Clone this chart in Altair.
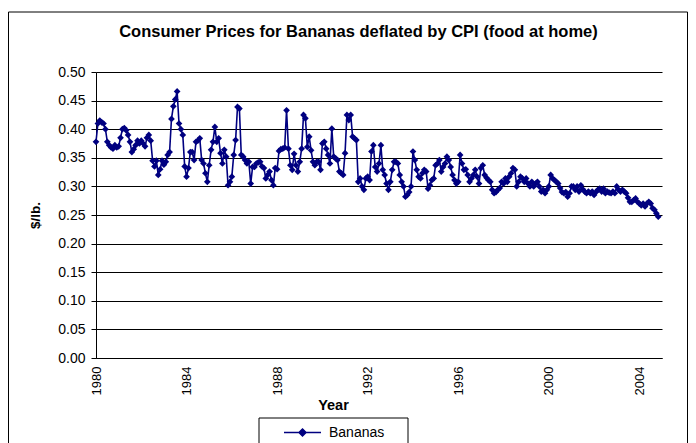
import altair as alt
import pandas as pd

# Monthly consumer price of bananas deflated by CPI ($/lb.), Jan 1980 onward
p1980 = [0.378, 0.410, 0.415, 0.412, 0.410, 0.400, 0.378, 0.372, 0.368, 0.366, 0.372, 0.368]
p1981 = [0.370, 0.385, 0.400, 0.402, 0.398, 0.390, 0.378, 0.360, 0.365, 0.372, 0.380, 0.375]
p1982 = [0.380, 0.375, 0.370, 0.385, 0.390, 0.380, 0.345, 0.335, 0.345, 0.320, 0.330, 0.345]
p1983 = [0.338, 0.343, 0.355, 0.360, 0.418, 0.440, 0.452, 0.466, 0.410, 0.400, 0.390, 0.335]
p1984 = [0.317, 0.332, 0.360, 0.360, 0.346, 0.378, 0.380, 0.384, 0.346, 0.340, 0.323, 0.308]
p1985 = [0.337, 0.364, 0.378, 0.404, 0.378, 0.384, 0.358, 0.340, 0.364, 0.352, 0.302, 0.308]
p1986 = [0.317, 0.355, 0.381, 0.439, 0.436, 0.355, 0.352, 0.346, 0.340, 0.343, 0.305, 0.334]
p1987 = [0.334, 0.340, 0.342, 0.343, 0.335, 0.332, 0.314, 0.320, 0.326, 0.311, 0.302, 0.332]
p1988 = [0.330, 0.362, 0.365, 0.366, 0.368, 0.433, 0.366, 0.337, 0.329, 0.357, 0.337, 0.326]
p1989 = [0.343, 0.366, 0.425, 0.419, 0.369, 0.387, 0.363, 0.343, 0.337, 0.343, 0.343, 0.329]
p1990 = [0.375, 0.378, 0.366, 0.355, 0.340, 0.401, 0.352, 0.349, 0.346, 0.326, 0.323, 0.320]
p1991 = [0.358, 0.425, 0.416, 0.425, 0.387, 0.384, 0.381, 0.308, 0.314, 0.300, 0.294, 0.314]
p1992 = [0.317, 0.311, 0.361, 0.372, 0.334, 0.326, 0.340, 0.372, 0.329, 0.320, 0.305, 0.294]
p1993 = [0.308, 0.329, 0.343, 0.343, 0.340, 0.320, 0.308, 0.300, 0.282, 0.285, 0.290, 0.300]
p1994 = [0.361, 0.346, 0.329, 0.317, 0.314, 0.323, 0.329, 0.326, 0.296, 0.302, 0.311, 0.314]
p1995 = [0.337, 0.340, 0.346, 0.326, 0.334, 0.340, 0.352, 0.346, 0.334, 0.320, 0.311, 0.305]
p1996 = [0.308, 0.355, 0.340, 0.329, 0.330, 0.320, 0.308, 0.314, 0.320, 0.329, 0.317, 0.305]
p1997 = [0.332, 0.337, 0.320, 0.315, 0.311, 0.308, 0.294, 0.288, 0.290, 0.294, 0.297, 0.308]
p1998 = [0.305, 0.314, 0.308, 0.317, 0.323, 0.332, 0.329, 0.300, 0.308, 0.317, 0.314, 0.308]
p1999 = [0.314, 0.305, 0.300, 0.308, 0.300, 0.305, 0.308, 0.300, 0.291, 0.294, 0.288, 0.294]
p2000 = [0.300, 0.320, 0.314, 0.311, 0.308, 0.305, 0.297, 0.290, 0.288, 0.290, 0.282, 0.288]
p2001 = [0.300, 0.300, 0.294, 0.300, 0.291, 0.302, 0.295, 0.291, 0.288, 0.291, 0.288, 0.291]
p2002 = [0.285, 0.290, 0.294, 0.296, 0.291, 0.296, 0.288, 0.291, 0.289, 0.288, 0.291, 0.288]
p2003 = [0.300, 0.294, 0.291, 0.294, 0.291, 0.288, 0.280, 0.273, 0.273, 0.276, 0.279, 0.273]
p2004 = [0.270, 0.267, 0.270, 0.265, 0.270, 0.273, 0.270, 0.262, 0.259, 0.253, 0.247]

year_ticks = [1980, 1984, 1988, 1992, 1996, 2000, 2004]
price_ticks = [0.00, 0.05, 0.10, 0.15, 0.20, 0.25, 0.30, 0.35, 0.40, 0.45, 0.50]
series_name = "Bananas"
title_text = "Consumer Prices for Bananas deflated by CPI (food at home)"

yearly = [p1980, p1981, p1982, p1983, p1984, p1985, p1986, p1987, p1988, p1989,
          p1990, p1991, p1992, p1993, p1994, p1995, p1996, p1997, p1998, p1999,
          p2000, p2001, p2002, p2003, p2004]
prices = [v for yr in yearly for v in yr]
df = pd.DataFrame({
    "t": [1980 + i / 12 for i in range(len(prices))],
    "price": prices,
    "series": [series_name] * len(prices),
})

FONT = "Liberation Sans"
NAVY = "#000080"

x_enc = alt.X(
    "t:Q",
    scale=alt.Scale(domain=[1980, 2005], nice=False, zero=False),
    axis=alt.Axis(
        values=year_ticks, format="d", labelAngle=270, labelAlign="right",
        labelBaseline="middle", labelFontSize=13, labelPadding=8, ticks=False,
        grid=False, domainColor="black", labelColor="black",
        title="Year", titleFontSize=14.5, titleFontWeight="bold", titleColor="black",
        titleX=237, titleY=47, titleAlign="center", titleBaseline="middle",
    ),
)
y_enc = alt.Y(
    "price:Q",
    scale=alt.Scale(domain=[0, 0.5], nice=False),
    axis=alt.Axis(
        values=price_ticks, format=".2f", labelFontSize=14, tickSize=5,
        labelPadding=6, grid=True, gridColor="black", gridWidth=1,
        domainColor="black", tickColor="black", labelColor="black",
        title="$/lb.", titleFontSize=13.5, titleFontWeight="bold", titleColor="black",
        titleX=-61, titleY=143, titleAngle=270, titleAlign="center",
        titleBaseline="middle",
    ),
)
color_enc = alt.Color(
    "series:N",
    scale=alt.Scale(domain=[series_name], range=[NAVY]),
    legend=alt.Legend(
        title=None, orient="none", legendX=187, legendY=341,
        symbolType="M-1,0L1,0M0,-0.19L0.19,0L0,0.19L-0.19,0Z",
        symbolSize=1369, symbolStrokeWidth=1.5, symbolFillColor=NAVY,
        symbolStrokeColor=NAVY, labelFontSize=14, labelOffset=7, padding=0,
        labelColor="black",
    ),
)

base = alt.Chart(df)
line = base.mark_line(strokeWidth=1.6).encode(x=x_enc, y=y_enc, color=color_enc)
points = base.mark_point(shape="diamond", filled=True, size=45, opacity=1).encode(
    x=x_enc, y=y_enc, color=color_enc
)

deco = alt.Chart(alt.Data(values=[{"k": 1}]))
frame = deco.mark_rect(fill=None, stroke="black", strokeWidth=1).encode(
    x=alt.value(-87.5), x2=alt.value(591.5), y=alt.value(-60), y2=alt.value(400)
)
legend_box = deco.mark_rect(fill=None, stroke="black", strokeWidth=1).encode(
    x=alt.value(163), x2=alt.value(312), y=alt.value(346), y2=alt.value(400)
)
title = deco.mark_text(
    text=title_text, font=FONT, fontSize=16.5, fontWeight="bold",
    align="center", baseline="alphabetic", color="black",
).encode(x=alt.value(262.5), y=alt.value(-35))

chart = alt.layer(frame, legend_box, title, line, points).properties(
    width=566, height=286,
    autosize=alt.AutoSizeParams(type="none"),
    padding={"left": 88, "top": 64, "right": 26, "bottom": 85},
).configure_view(stroke=None).configure_axis(
    labelFont=FONT, titleFont=FONT
).configure_legend(labelFont=FONT)

chart.save("out.html", embed_options={"renderer": "svg", "actions": False})
